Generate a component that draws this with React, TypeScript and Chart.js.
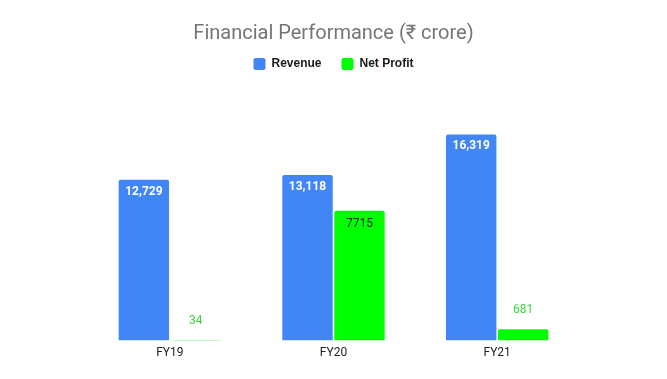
import React, { useEffect, useRef } from "react";
import { Chart, registerables } from "chart.js";

Chart.register(...registerables);

const categories = ["FY19", "FY20", "FY21"];
const revenue = [12729, 13118, 16319];
const netProfit = [34, 7715, 681];
const seriesNames = ["Revenue", "Net Profit"];
const titleText = "Financial Performance (₹ crore)";

const BLUE = "#4285F4";
const GREEN = "#00FF00";

const legendGap = {
  id: "legendGap",
  beforeInit(chart: any) {
    const legend = chart.legend;
    if (!legend) return;
    const orig = legend.fit;
    legend.fit = function () {
      orig.call(this);
      this.height += 8;
    };
  },
};

const barLabels = {
  id: "barLabels",
  afterDatasetsDraw(chart: any) {
    const ctx = chart.ctx;
    ctx.save();
    ctx.textAlign = "center";
    ctx.textBaseline = "middle";
    chart.data.datasets.forEach((ds: any, di: number) => {
      const meta = chart.getDatasetMeta(di);
      meta.data.forEach((bar: any, i: number) => {
        const v = ds.data[i];
        const h = bar.base - bar.y;
        if (di === 0) {
          ctx.font = "bold 12px Roboto";
          ctx.fillStyle = "#ffffff";
          ctx.fillText(v.toLocaleString("en-US"), bar.x, bar.y + 12);
        } else {
          if (h > 30) {
            ctx.font = "12px Roboto";
            ctx.fillStyle = "#222222";
            ctx.fillText(String(v), bar.x, bar.y + 13);
          } else {
            ctx.font = "12px Roboto";
            ctx.fillStyle = "#3ed43e";
            ctx.fillText(String(v), bar.x, bar.y - 19);
          }
        }
      });
    });
    ctx.restore();
  },
};

export default function App() {
  const ref = useRef<HTMLCanvasElement | null>(null);
  useEffect(() => {
    if (!ref.current) return;
    const chart = new Chart(ref.current, {
      type: "bar",
      data: {
        labels: categories,
        datasets: [
          {
            label: seriesNames[0],
            data: revenue,
            backgroundColor: BLUE,
            borderRadius: 2,
            yAxisID: "y",
            barPercentage: 0.97,
            categoryPercentage: 0.635,
          },
          {
            label: seriesNames[1],
            data: netProfit,
            backgroundColor: GREEN,
            borderRadius: 2,
            yAxisID: "y1",
            barPercentage: 0.97,
            categoryPercentage: 0.635,
          },
        ],
      },
      options: {
        responsive: true,
        maintainAspectRatio: false,
        animation: false,
        layout: { padding: { left: 88, right: 88, top: 0, bottom: 14 } },
        plugins: {
          title: {
            display: true,
            text: titleText,
            color: "#757575",
            font: { family: "Roboto", size: 20, weight: "normal" },
            padding: { top: 22, bottom: -8 },
          },
          legend: {
            display: true,
            labels: {
              boxWidth: 12,
              boxHeight: 12,
              useBorderRadius: true,
              borderRadius: 2,
              padding: 20,
              color: "#1a1a1a",
              font: { family: "Liberation Sans", size: 12, weight: "bold" },
            },
          },
          tooltip: { enabled: false },
        },
        scales: {
          x: {
            grid: { display: false, drawTicks: false },
            border: { display: false },
            ticks: {
              color: "#222222",
              font: { family: "Roboto", size: 12 },
              padding: 5,
            },
          },
          y: {
            display: false,
            min: 0,
            max: 20000,
          },
          y1: {
            display: false,
            min: 0,
            max: 15000,
            position: "right",
          },
        },
      },
      plugins: [legendGap, barLabels],
    });
    return () => chart.destroy();
  }, []);
  return (
    <div style={{ position: "absolute", left: 0, top: 0, width: 667, height: 379 }}>
      <canvas ref={ref} />
    </div>
  );
}
